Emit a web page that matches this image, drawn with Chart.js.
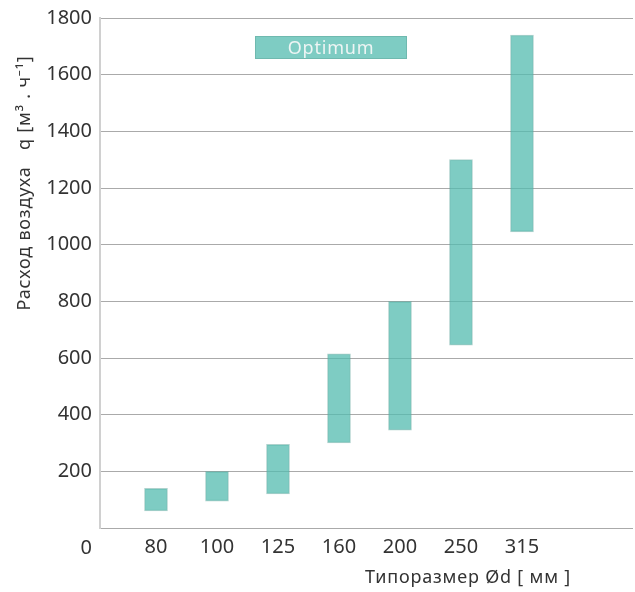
<!DOCTYPE html>
<html>
<head>
<meta charset="utf-8">
<script src="https://cdn.jsdelivr.net/npm/chart.js@4.4.1/dist/chart.umd.min.js"></script>
<style>
  html, body { margin: 0; background: #fff; }
  #wrap { width: 635px; height: 592px; }
</style>
</head>
<body>
<div id="wrap"><canvas id="airflow"></canvas></div>
<script>
// duct sizes and the optimum air flow range for each one
const sizes = ["80", "100", "125", "160", "200", "250", "315"];
const flowMin = [60, 95, 120, 300, 345, 645, 1045];
const flowMax = [140, 200, 295, 615, 800, 1300, 1740];
const yTickValues = [0, 200, 400, 600, 800, 1000, 1200, 1400, 1600, 1800];

const legendText = "Optimum";
const yTitle = "Расход воздуха   q [м³ . ч⁻¹]";
const xTitle = "Типоразмер Ød [ мм ]";

const teal = "rgba(83,187,175,0.75)";
const tealEdge = "rgba(95,165,155,0.5)";
const inkColor = "#333";
const fontFamily = "'Noto Sans', 'Open Sans', sans-serif";

const ranges = sizes.map((s, i) => ({ x: i + 1, y: [flowMin[i], flowMax[i]] }));

// legend box + both axis titles drawn by hand
const extras = {
  id: "extras",
  afterDraw(chart) {
    const ctx = chart.ctx;
    const a = chart.chartArea;
    ctx.save();
    ctx.letterSpacing = "0.8px";

    // Optimum box
    const bx = a.left + 155, by = a.top + 18, bw = 152, bh = 23;
    ctx.fillStyle = teal;
    ctx.fillRect(bx, by, bw, bh);
    ctx.strokeStyle = tealEdge;
    ctx.lineWidth = 1;
    ctx.strokeRect(bx + 0.5, by + 0.5, bw - 1, bh - 1);
    ctx.fillStyle = "#eef5f4";
    ctx.font = "18px " + fontFamily;
    ctx.textAlign = "center";
    ctx.textBaseline = "middle";
    ctx.fillText(legendText, bx + bw / 2, by + bh / 2 + 1);

    // x title
    ctx.fillStyle = inkColor;
    ctx.fillText(xTitle, a.left + 368, a.bottom + 50);

    // y title
    ctx.translate(25, a.top + 165);
    ctx.rotate(-Math.PI / 2);
    ctx.fillText(yTitle, 0, 0);
    ctx.restore();
  }
};

new Chart(document.getElementById("airflow"), {
  type: "bar",
  data: {
    datasets: [{
      data: ranges,
      backgroundColor: teal,
      borderColor: tealEdge,
      borderWidth: 1,
      borderSkipped: false,
      barThickness: 23
    }]
  },
  options: {
    responsive: true,
    maintainAspectRatio: false,
    animation: false,
    layout: { padding: { top: 17, right: 2, left: 0, bottom: 0 } },
    plugins: {
      legend: { display: false },
      tooltip: { enabled: false }
    },
    scales: {
      x: {
        type: "linear",
        offset: false,
        min: 0.082,
        max: 8.82,
        afterBuildTicks: s => { s.ticks = sizes.map((_, i) => ({ value: i + 1 })); },
        afterFit: s => { s.height = 64; },
        grid: { display: false, drawTicks: false },
        border: { display: false },
        ticks: {
          autoSkip: false,
          maxRotation: 0,
          padding: 7,
          color: inkColor,
          font: { size: 20, family: fontFamily },
          callback: v => sizes[v - 1]
        }
      },
      y: {
        min: 0,
        max: 1800,
        afterBuildTicks: s => { s.ticks = yTickValues.map(v => ({ value: v })); },
        afterFit: s => { s.width = 100; },
        grid: { color: "#aaaaaa", lineWidth: 1, drawTicks: false },
        border: { display: true, color: "#d0d0d0", width: 2 },
        ticks: {
          autoSkip: false,
          padding: 8,
          color: inkColor,
          font: { size: 20, family: fontFamily, lineHeight: 1.0 },
          // the origin "0" sits below the corner
          callback: v => v === 0 ? ["", "", "0"] : String(v)
        }
      }
    }
  },
  plugins: [extras]
});
</script>
</body>
</html>
